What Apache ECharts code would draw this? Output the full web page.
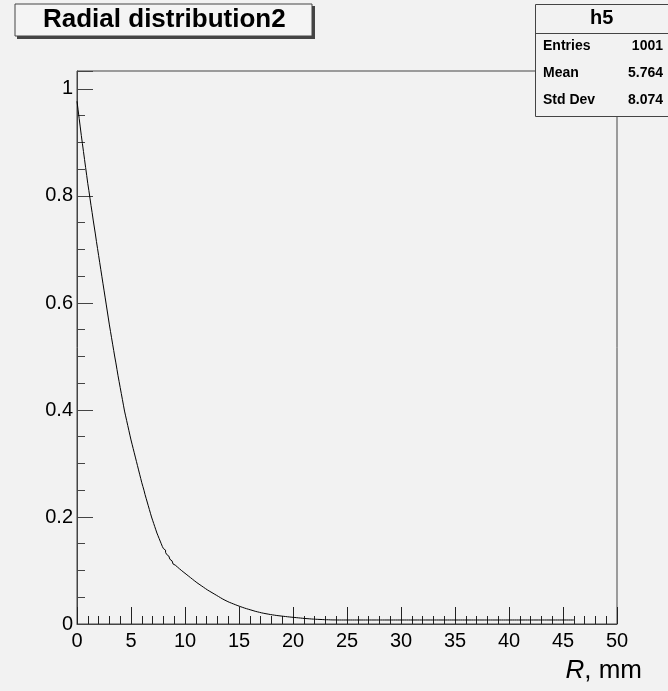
<!DOCTYPE html>
<html>
<head>
<meta charset="utf-8">
<script src="https://cdn.jsdelivr.net/npm/echarts@6/dist/echarts.min.js"></script>
<style>
html,body{margin:0;padding:0;background:#f2f2f2;}
#c{width:668px;height:691px;}
</style>
</head>
<body>
<div id="c"></div>
<script>
// ---- data ----
const histTitle = 'Radial distribution2';
const histName = 'h5';
const statLabels = ['Entries', 'Mean', 'Std Dev'];
const statValues = ['1001', '5.764', '8.074'];
const xRange = [0, 50];
const binWidth = 0.1;
// bin contents (bins of 0.1 mm from 0 to 50 mm)
const binValues = [
  0.977, 0.961, 0.945, 0.929, 0.913, 0.898, 0.883, 0.868, 0.853, 0.838,
  0.823, 0.810, 0.796, 0.782, 0.769, 0.755, 0.742, 0.729, 0.715, 0.702,
  0.689, 0.676, 0.663, 0.650, 0.637, 0.624, 0.611, 0.598, 0.585, 0.572,
  0.559, 0.547, 0.535, 0.523, 0.511, 0.499, 0.488, 0.476, 0.464, 0.453,
  0.442, 0.431, 0.420, 0.409, 0.398, 0.389, 0.380, 0.371, 0.362, 0.353,
  0.344, 0.336, 0.328, 0.320, 0.312, 0.304, 0.296, 0.288, 0.280, 0.272,
  0.264, 0.257, 0.250, 0.242, 0.235, 0.228, 0.221, 0.214, 0.207, 0.200,
  0.194, 0.188, 0.182, 0.176, 0.170, 0.165, 0.160, 0.155, 0.150, 0.145,
  0.141, 0.138, 0.134, 0.130, 0.127, 0.124, 0.121, 0.118, 0.115, 0.112,
  0.110, 0.108, 0.1065, 0.105, 0.103, 0.1012, 0.0996, 0.098, 0.0964, 0.0948,
  0.0932, 0.0916, 0.090, 0.0884, 0.0868, 0.0852, 0.0836, 0.082, 0.0804, 0.0788,
  0.0773, 0.0759, 0.0745, 0.0731, 0.0717, 0.0703, 0.0689, 0.0675, 0.0661, 0.0647,
  0.0634, 0.0622, 0.061, 0.0598, 0.0586, 0.0574, 0.0562, 0.055, 0.0538, 0.0526,
  0.0514, 0.0502, 0.049, 0.0478, 0.0466, 0.0455, 0.0445, 0.0435, 0.0425, 0.0415,
  0.0406, 0.0398, 0.039, 0.0382, 0.0374, 0.0366, 0.0358, 0.035, 0.0342, 0.0334,
  0.0327, 0.0320, 0.0313, 0.0306, 0.0299, 0.0292, 0.0286, 0.0280, 0.0274, 0.0268,
  0.0262, 0.0256, 0.0250, 0.0244, 0.0238, 0.0233, 0.0228, 0.0223, 0.0218, 0.0213,
  0.0208, 0.0204, 0.0200, 0.0196, 0.0192, 0.0188, 0.0185, 0.0181, 0.0177, 0.0174,
  0.0171, 0.0168, 0.0165, 0.0162, 0.0159, 0.0157, 0.0154, 0.0152, 0.0149, 0.0146,
  0.0144, 0.0142, 0.0140, 0.0137, 0.0135, 0.0133, 0.0131, 0.0129, 0.0127, 0.0125,
  0.0123, 0.0121, 0.0119, 0.0117, 0.0115, 0.0113, 0.0111, 0.0109, 0.0107, 0.0105,
  0.0103, 0.0102, 0.0100, 0.0098, 0.0097, 0.0095, 0.0094, 0.0093, 0.0091, 0.0090,
  0.0089, 0.0088, 0.0087, 0.0086, 0.0085, 0.0084, 0.0083, 0.0082, 0.0081, 0.0080,
  0.0080, 0.0079, 0.0079, 0.0078, 0.0077, 0.0077, 0.0076, 0.0076, 0.0076, 0.0075,
  0.0075, 0.0075, 0.0075, 0.0075, 0.0075, 0.0075, 0.0075, 0.0075, 0.0075, 0.0075,
  0.0075, 0.0075, 0.0075, 0.0075, 0.0075, 0.0075, 0.0075, 0.0075, 0.0075, 0.0075,
  0.0075, 0.0075, 0.0075, 0.0075, 0.0075, 0.0075, 0.0075, 0.0075, 0.0075, 0.0075,
  0.0075, 0.0075, 0.0075, 0.0075, 0.0075, 0.0075, 0.0075, 0.0075, 0.0075, 0.0075,
  0.0075, 0.0075, 0.0075, 0.0075, 0.0075, 0.0075, 0.0075, 0.0075, 0.0075, 0.0075,
  0.0075, 0.0075, 0.0075, 0.0075, 0.0075, 0.0075, 0.0075, 0.0075, 0.0075, 0.0075,
  0.0075, 0.0075, 0.0075, 0.0075, 0.0075, 0.0075, 0.0075, 0.0075, 0.0075, 0.0075,
  0.0075, 0.0075, 0.0075, 0.0075, 0.0075, 0.0075, 0.0075, 0.0075, 0.0075, 0.0075,
  0.0075, 0.0075, 0.0075, 0.0075, 0.0075, 0.0075, 0.0075, 0.0075, 0.0075, 0.0075,
  0.0075, 0.0075, 0.0075, 0.0075, 0.0075, 0.0075, 0.0075, 0.0075, 0.0075, 0.0075,
  0.0075, 0.0075, 0.0075, 0.0075, 0.0075, 0.0075, 0.0075, 0.0075, 0.0075, 0.0075,
  0.0075, 0.0075, 0.0075, 0.0075, 0.0075, 0.0075, 0.0075, 0.0075, 0.0075, 0.0075,
  0.0075, 0.0075, 0.0075, 0.0075, 0.0075, 0.0075, 0.0075, 0.0075, 0.0075, 0.0075,
  0.0075, 0.0075, 0.0075, 0.0075, 0.0075, 0.0075, 0.0075, 0.0075, 0.0075, 0.0075,
  0.0075, 0.0075, 0.0075, 0.0075, 0.0075, 0.0075, 0.0075, 0.0075, 0.0075, 0.0075,
  0.0075, 0.0075, 0.0075, 0.0075, 0.0075, 0.0075, 0.0075, 0.0075, 0.0075, 0.0075,
  0.0075, 0.0075, 0.0075, 0.0075, 0.0075, 0.0075, 0.0075, 0.0075, 0.0075, 0.0075,
  0.0075, 0.0075, 0.0075, 0.0075, 0.0075, 0.0075, 0.0075, 0.0075, 0.0075, 0.0075,
  0.0075, 0.0075, 0.0075, 0.0075, 0.0075, 0.0075, 0.0075, 0.0075, 0.0075, 0.0075,
  0.0075, 0.0075, 0.0075, 0.0075, 0.0075, 0.0075, 0.0075, 0.0075, 0.0075, 0.0075,
  0.0075, 0.0075, 0.0075, 0.0075, 0.0075, 0.0075, 0.0075, 0.0075, 0.0075, 0.0075,
  0.0075, 0.0075, 0.0075, 0.0075, 0.0075, 0.0075, 0.0075, 0.0075, 0.0075, 0.0075
];
const yMax = 1.0336;

// ---- build ----
const stepData = binValues.map((v, i) => [xRange[0] + i * binWidth, v]);
stepData.push([xRange[0] + binValues.length * binWidth, binValues[binValues.length - 1]]);

const FONT = '"Liberation Sans", Arial, Helvetica, sans-serif';
const chart = echarts.init(document.getElementById('c'));

const statRows = [];
statLabels.forEach((lab, i) => {
  const y = 47 + i * 27;
  statRows.push({type: 'text', left: 543, top: y - 8, z: 20,
    style: {text: lab, font: 'bold 14px ' + FONT, fill: '#000'}});
  statRows.push({type: 'text', right: 5, top: y - 8, z: 20,
    style: {text: statValues[i], font: 'bold 14px ' + FONT, fill: '#000', align: 'right'}});
});

chart.setOption({
  backgroundColor: '#f2f2f2',
  animation: false,
  grid: {left: 77, right: 51, top: 71, bottom: 67, show: true, borderColor: '#444', borderWidth: 1, backgroundColor: 'transparent'},
  xAxis: {
    type: 'value', min: xRange[0], max: xRange[1], interval: 5,
    axisLine: {show: true, lineStyle: {color: '#444', width: 1}},
    axisTick: {show: true, inside: true, length: 17, lineStyle: {color: '#222'}},
    minorTick: {show: true, splitNumber: 5, length: 8, lineStyle: {color: '#222'}},
    splitLine: {show: false},
    axisLabel: {fontSize: 20, fontFamily: FONT, color: '#000', margin: 7},
    name: '{i|R}, mm',
    nameLocation: 'end',
    nameGap: 25,
    nameTextStyle: {fontSize: 26, fontFamily: FONT, color: '#000', align: 'right', verticalAlign: 'top',
      padding: [34, 0, 0, 0], rich: {i: {fontStyle: 'italic', fontSize: 26, fontFamily: FONT, color: '#000'}}}
  },
  yAxis: {
    type: 'value', min: 0, max: yMax, interval: 0.2,
    axisLine: {show: true, lineStyle: {color: '#444', width: 1}},
    axisTick: {show: true, inside: true, length: 16, lineStyle: {color: '#444'}},
    minorTick: {show: true, splitNumber: 4, length: 8, lineStyle: {color: '#444'}},
    splitLine: {show: false},
    axisLabel: {fontSize: 20, fontFamily: FONT, color: '#000', margin: 4, showMaxLabel: false}
  },
  series: [{
    type: 'line', step: 'end', data: stepData, symbol: 'none',
    lineStyle: {color: '#000', width: 1}, silent: true
  }],
  graphic: [
    // title box with shadow
    {type: 'rect', shape: {x: 17, y: 6, width: 298, height: 33}, style: {fill: '#444'}, z: 9},
    {type: 'rect', shape: {x: 15, y: 4, width: 297, height: 32}, style: {fill: '#f4f4f4', stroke: '#444', lineWidth: 1}, z: 10},
    {type: 'text', left: 43, top: 7, z: 11, style: {text: histTitle, font: 'bold 26px ' + FONT, fill: '#000'}},
    // stats box
    {type: 'rect', shape: {x: 535.5, y: 4.5, width: 140, height: 112}, style: {fill: '#f2f2f2', stroke: '#444', lineWidth: 1}, z: 15},
    {type: 'line', shape: {x1: 535.5, y1: 33.5, x2: 668, y2: 33.5}, style: {stroke: '#444', lineWidth: 1}, z: 16},
    {type: 'text', left: 590, top: 8, z: 20, style: {text: histName, font: 'bold 20px ' + FONT, fill: '#000'}}
  ].concat(statRows)
});
</script>
</body>
</html>
